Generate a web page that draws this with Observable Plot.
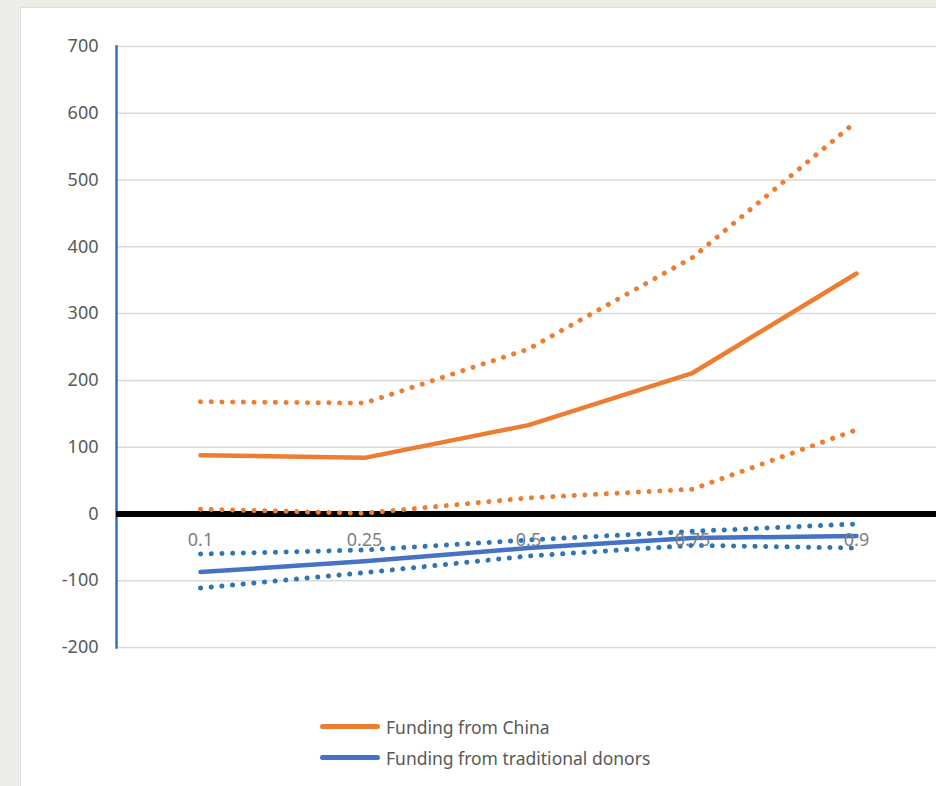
<!DOCTYPE html>
<html><head><meta charset="utf-8">
<script src="https://cdn.jsdelivr.net/npm/d3@7"></script>
<script src="https://cdn.jsdelivr.net/npm/@observablehq/plot@0.6"></script>
<style>
html,body{margin:0;padding:0;overflow:hidden;background:#eeece7;width:936px;height:786px;}
#panel{position:absolute;left:20px;top:7px;width:960px;height:800px;background:#fff;border:1px solid #dedede;}
#chart{position:absolute;left:0;top:0;width:960px;}
#chart svg{max-width:none !important;}
#legend{position:absolute;left:320px;top:711px;font-family:"Noto Sans",sans-serif;font-size:17.5px;color:#595959;}
.item{display:flex;align-items:center;height:31px;}
.swatch{width:60px;height:5px;border-radius:3px;margin-right:6px;}
</style></head>
<body>
<div id="panel"></div>
<div id="chart"></div>
<div id="legend"></div>
<script>
const quantiles = ["0.1", "0.25", "0.5", "0.75", "0.9"];
const chinaMid   = [88, 84, 133, 211, 360];
const chinaHigh  = [168, 166, 247, 384, 588];
const chinaLow   = [7, 1, 24, 37, 126];
const donorMid   = [-87, -71, -51, -36, -33];
const donorHigh  = [-60, -54, -39, -26, -15];
const donorLow   = [-111, -88, -63, -47, -51];
const yTicks = [-200, -100, 0, 100, 200, 300, 400, 500, 600, 700];
const seriesNames = ["Funding from China", "Funding from traditional donors"];

const orange = "#ED7D31", blueSolid = "#4472C4", blueDot = "#2E75B6";
const mk = arr => quantiles.map((q, i) => ({q, v: arr[i]}));

const dotted = {strokeWidth: 5, strokeDasharray: "0.1 10.6", strokeLinecap: "round"};
const chart = Plot.plot({
  width: 939, height: 680,
  marginLeft: 116, marginRight: 0, marginTop: 46, marginBottom: 33,
  style: {background: "transparent", fontFamily: "'Noto Sans', sans-serif", fontSize: "17px", color: "#595959", maxWidth: "none"},
  x: {type: "point", domain: quantiles, padding: 0.5, axis: null},
  y: {domain: [-200, 700], axis: null},
  marks: [
    Plot.gridY(yTicks, {stroke: "#d9d9d9", strokeOpacity: 1, strokeWidth: 1.5}),
    Plot.axisY(yTicks, {tickSize: 0, tickPadding: 18, fill: "#595959", fontSize: 18, label: null, tickFormat: d => String(d)}),
    Plot.frame({anchor: "left", stroke: blueDot, strokeWidth: 2.5}),
    Plot.ruleY([0], {stroke: "#000", strokeWidth: 6}),
    Plot.line(mk(chinaHigh), {x: "q", y: "v", stroke: orange, ...dotted}),
    Plot.line(mk(chinaLow), {x: "q", y: "v", stroke: orange, ...dotted}),
    Plot.line(mk(donorHigh), {x: "q", y: "v", stroke: blueDot, ...dotted}),
    Plot.line(mk(donorLow), {x: "q", y: "v", stroke: blueDot, ...dotted}),
    Plot.line(mk(chinaMid), {x: "q", y: "v", stroke: orange, strokeWidth: 4.5, strokeLinejoin: "round"}),
    Plot.line(mk(donorMid), {x: "q", y: "v", stroke: blueSolid, strokeWidth: 4.5, strokeLinejoin: "round"}),
    Plot.text(quantiles, {x: d => d, y: () => -40, text: d => d, fill: "#7f7f7f", fontSize: 18})
  ]
});
chart.style.maxWidth = "none";
document.getElementById("chart").appendChild(chart);

const legend = document.getElementById("legend");
[[seriesNames[0], orange], [seriesNames[1], blueSolid]].forEach(([name, c]) => {
  const row = document.createElement("div");
  row.className = "item";
  row.innerHTML = `<div class="swatch" style="background:${c}"></div><span>${name}</span>`;
  legend.appendChild(row);
});
</script>
</body></html>
